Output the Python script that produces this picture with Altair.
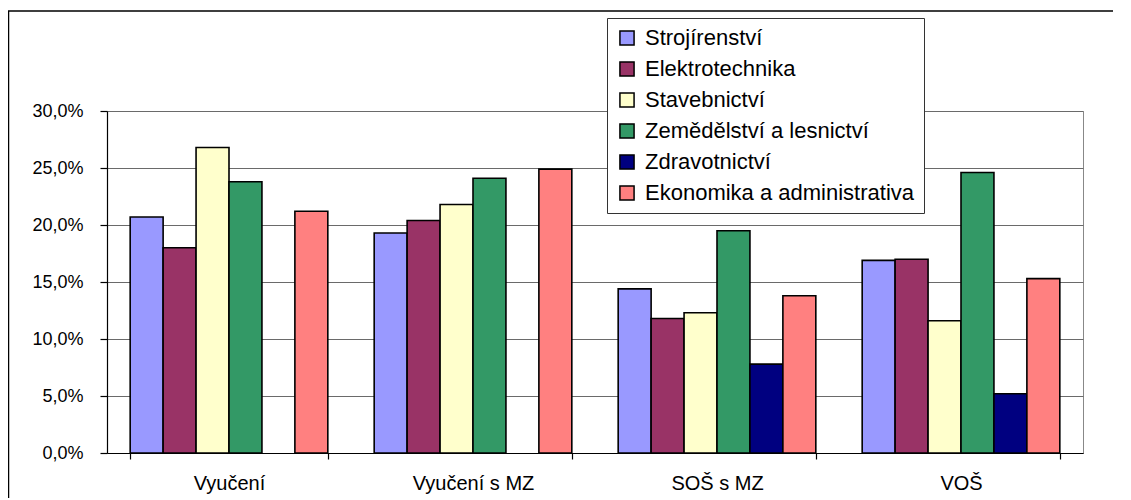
import altair as alt
import pandas as pd

categories = ["Vyučení", "Vyučení s MZ", "SOŠ s MZ", "VOŠ"]
series = ["Strojírenství", "Elektrotechnika", "Stavebnictví",
          "Zemědělství a lesnictví", "Zdravotnictví", "Ekonomika a administrativa"]
colors = ["#9999FF", "#993366", "#FFFFCC", "#339966", "#000080", "#FF8080"]

strojirenstvi = [20.7, 19.3, 14.4, 16.9]
elektrotechnika = [18.0, 20.4, 11.8, 17.0]
stavebnictvi = [26.8, 21.8, 12.3, 11.6]
zemedelstvi = [23.8, 24.1, 19.5, 24.6]
zdravotnictvi = [None, None, 7.8, 5.2]
ekonomika = [21.2, 24.9, 13.8, 15.3]

y_ticks = [0, 5, 10, 15, 20, 25, 30]

rows = []
for s, vals in zip(series, [strojirenstvi, elektrotechnika, stavebnictvi,
                            zemedelstvi, zdravotnictvi, ekonomika]):
    for c, v in zip(categories, vals):
        if v is not None:
            rows.append({"obor": s, "kategorie": c, "podil": v})
df = pd.DataFrame(rows)

FONT = "Liberation Sans"

frame = alt.Chart(pd.DataFrame({"a": [0]})).mark_rect(
    fill=None, stroke="black", strokeWidth=1.5
).encode(
    x=alt.value(-98.5), x2=alt.value(1100),
    y=alt.value(-100), y2=alt.value(600)
)

bars = alt.Chart(df).mark_bar(stroke="black", strokeWidth=1.6).encode(
    x=alt.X("kategorie:N", sort=categories, title=None,
            scale=alt.Scale(paddingInner=0.19, paddingOuter=0.095),
            axis=alt.Axis(labelAngle=0, labelFont=FONT, labelFontSize=20,
                          labelColor="black", labelPadding=14,
                          tickBand="extent", tickSize=6, tickColor="black",
                          domainColor="black", grid=False)),
    xOffset=alt.XOffset("obor:N", sort=series,
                        scale=alt.Scale(domain=series, paddingInner=0, paddingOuter=0)),
    y=alt.Y("podil:Q", title=None,
            scale=alt.Scale(domain=[0, 30], nice=False),
            axis=alt.Axis(values=y_ticks,
                          labelExpr="replace(format(datum.value, '.1f'), '.', ',') + '%'",
                          labelFont=FONT, labelFontSize=18, labelColor="black",
                          labelPadding=17, tickSize=7, tickColor="black",
                          domainColor="black", gridColor="#6a6a6a", grid=True)),
    color=alt.Color("obor:N", sort=series,
                    scale=alt.Scale(domain=series, range=colors),
                    legend=alt.Legend(title=None, orient="none",
                                      legendX=500, legendY=-93,
                                      labelFont=FONT, labelFontSize=22,
                                      labelColor="black", labelLimit=400,
                                      symbolType="square", symbolSize=200,
                                      symbolStrokeColor="black", symbolStrokeWidth=1.5,
                                      symbolOpacity=1, labelOffset=7,
                                      rowPadding=9, padding=9,
                                      strokeColor="#333333", fillColor="white")),
)

chart = alt.layer(frame, bars).properties(
    width=976, height=342,
    autosize=alt.AutoSizeParams(type="none"),
    padding={"left": 99, "top": 103, "right": 30, "bottom": 45},
).configure_view(stroke="#888888", strokeWidth=1).configure_axis(
    domainWidth=1.2, tickWidth=1.2, gridWidth=1
)

chart.save("out.html", embed_options={"renderer": "svg", "actions": False})
